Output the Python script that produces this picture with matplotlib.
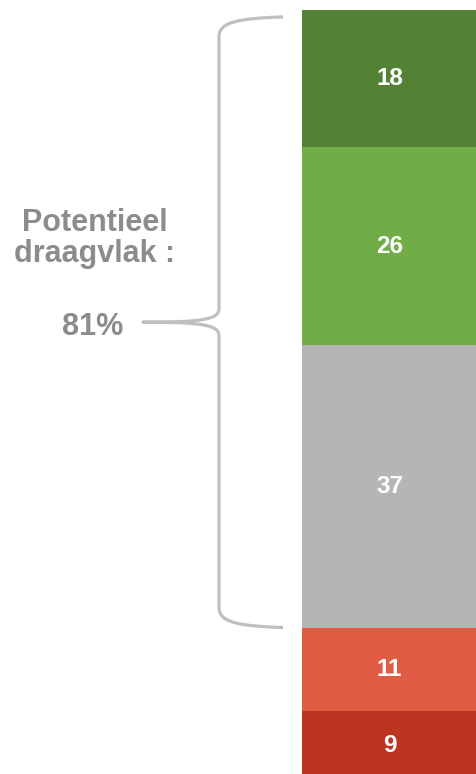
import matplotlib

matplotlib.use("Agg")
import matplotlib.pyplot as plt
from matplotlib.path import Path
from matplotlib.patches import PathPatch

values = [18, 26, 37, 11, 9]
colors = ["#548235", "#70AD47", "#B5B5B3", "#E05B43", "#BC3520"]
label_lines = ["Potentieel", "draagvlak :"]
share_label = "81%"

W, H = 477, 774
fig = plt.figure(figsize=(W / 100, H / 100), dpi=100)
# bar runs slightly past the bottom edge, as in the reference
ax = fig.add_axes([0, -6 / H, 1, 770 / H])
total = sum(values)
ax.set_xlim(0, W)
ax.set_ylim(total, 0)
ax.axis("off")

# single stacked bar
bottom = 0
for v, c in zip(values, colors):
    ax.bar(389.5, v, width=175, bottom=bottom, color=c, linewidth=0)
    ax.text(389.5, bottom + v / 2, str(v), ha="center", va="center",
            color="white", fontsize=17.5, fontweight="bold", family="Liberation Sans")
    bottom += v

# curly brace over the top three segments
top = 0.9
bot = sum(values[:3])
mid = (top + bot) / 2
k = total / 770  # value units per pixel
xe, xv, xt = 283, 219, 143
verts = [
    (xe, top), (240, top + 0.2), (xv, top + 0.6), (xv, top + 20 * k),
    (xv, mid - 14 * k),
    (xv, mid - 3 * k), (205, mid), (xt, mid),
    (205, mid), (xv, mid + 3 * k), (xv, mid + 14 * k),
    (xv, bot - 20 * k),
    (xv, bot - 0.6), (240, bot - 0.2), (xe, bot),
]
codes = [Path.MOVETO, Path.CURVE4, Path.CURVE4, Path.CURVE4,
         Path.LINETO,
         Path.CURVE4, Path.CURVE4, Path.CURVE4,
         Path.CURVE4, Path.CURVE4, Path.CURVE4,
         Path.LINETO,
         Path.CURVE4, Path.CURVE4, Path.CURVE4]
ax.add_patch(PathPatch(Path(verts, codes), fill=False, edgecolor="#BFBFBF",
                       lw=2.3, capstyle="butt", joinstyle="round"))

grey = "#8C8C8C"
ax.text(95, mid - 11.0, "\n".join(label_lines), ha="center", va="center",
        color=grey, fontsize=22, fontweight="bold", family="Liberation Sans",
        linespacing=1.05)
ax.text(93, mid + 0.6, share_label, ha="center", va="center",
        color=grey, fontsize=22, fontweight="bold", family="Liberation Sans")

fig.savefig("out.png", dpi=100)
